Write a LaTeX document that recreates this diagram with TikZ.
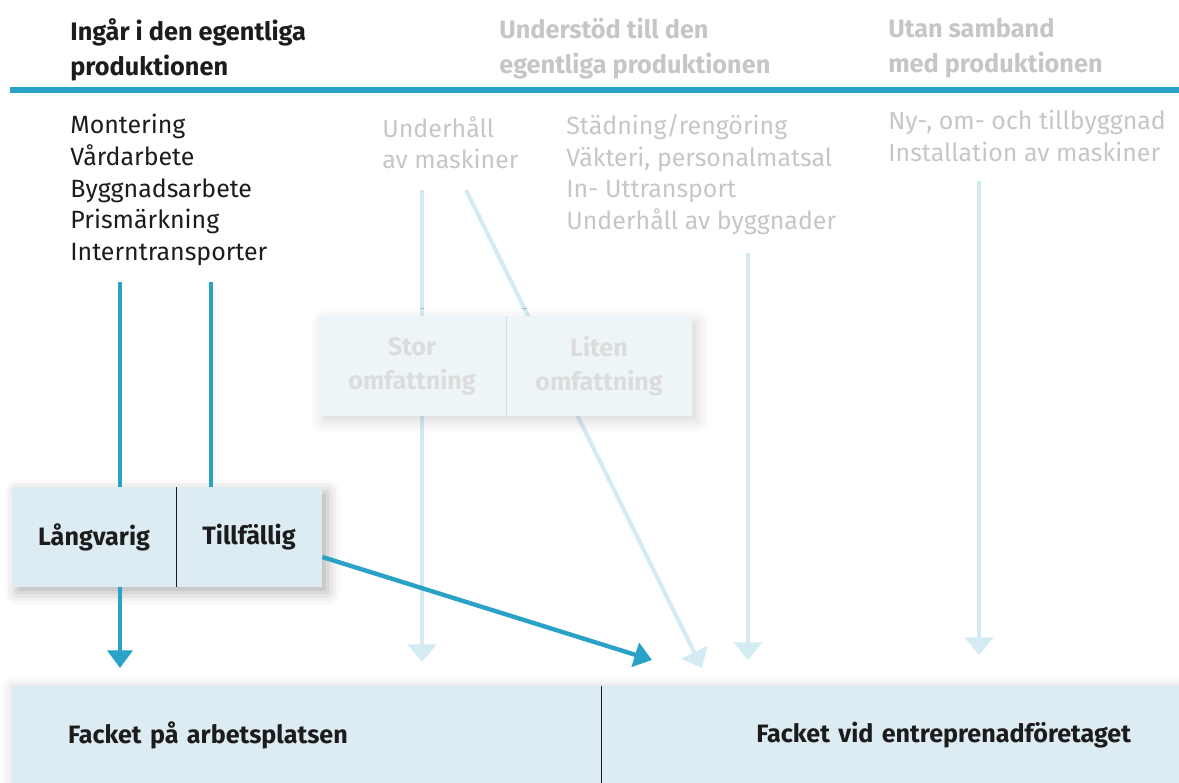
\documentclass[tikz,border=0pt]{standalone}
\usepackage{fontspec}
\setmainfont{Fira Sans}
\usetikzlibrary{arrows.meta, positioning, calc, fit, shadows.blur}

\definecolor{fackblue}{HTML}{2AA1C7}
\definecolor{fackpale}{HTML}{D5EBF3}
\definecolor{boxfill}{HTML}{DDEBF3}
\definecolor{boxpale}{HTML}{EEF5F9}
\definecolor{greytext}{HTML}{C6C6C6}
\definecolor{palegrey}{HTML}{DCDCDC}
\definecolor{inktext}{HTML}{1C1C1C}

\pgfdeclarelayer{arrowlayer}
\pgfdeclarelayer{boxlayer}
\pgfsetlayers{arrowlayer,boxlayer,main}

\tikzset{
  headtext/.style={font=\bfseries\fontsize{14.4}{19.8}\selectfont, align=left, anchor=north west, inner sep=0},
  listtext/.style={font=\fontsize{14.2}{18.0}\selectfont, align=left, anchor=north west, inner sep=0},
  cell/.style={font=\bfseries\fontsize{14.3}{19.3}\selectfont, align=center, inner sep=0, minimum height=2cm},
  strongarrow/.style={draw=fackblue, line width=2.5pt, -{Triangle[width=14pt,length=10pt]}},
  strongline/.style={draw=fackblue, line width=2.5pt},
  faintarrow/.style={draw=fackpale, line width=2.4pt, -{Triangle[width=16pt,length=10pt]}},
}

\begin{document}
\begin{tikzpicture}[x=0.02cm, y=-0.02cm]
\useasboundingbox (0,0) rectangle (1179,782);

% rubriker
\node[headtext, text=inktext] (hdprod) at (70,18) {Ingår i den egentliga\\produktionen};
\node[headtext, text=greytext] (hdsupp) at (499,18) {Understöd till den\\egentliga produktionen};
\node[headtext, text=greytext] (hdfree) at (888,18) {Utan samband\\med produktionen};
\draw[fackblue, line width=3.2pt] (10,90) -- (1179,90);

% listor
\node[listtext, text=inktext] (lsprod) at (70,114) {Montering\\Vårdarbete\\Byggnadsarbete\\Prismärkning\\Interntransporter};
\node[listtext, text=greytext] (lsmach) at (382,116) {Underhåll\\av maskiner};
\node[listtext, text=greytext] (lssupp) at (566,114) {Städning/rengöring\\Väkteri, personalmatsal\\In- Uttransport\\Underhåll av byggnader};
\node[listtext, text=greytext] (lsfree) at (888,110) {Ny-, om- och tillbyggnad\\Installation av maskiner};

% rutor
\node[cell, minimum width=3.28cm, text=inktext] (lang) at (94,537) {Långvarig};
\node[cell, minimum width=2.92cm, text=inktext] (till) at (249,537) {Tillfällig};
\node[cell, minimum width=3.76cm, text=palegrey] (stor) at (412,366) {Stor\\omfattning};
\node[cell, minimum width=3.72cm, text=palegrey] (liten) at (599,366) {Liten\\omfattning};
\node[cell, minimum width=11.78cm, minimum height=1.96cm, text width=9.54cm, align=left, text=inktext] (onsite) at (306.5,735) {Facket på arbetsplatsen};
\node[cell, minimum width=11.56cm, minimum height=1.96cm, text width=9.64cm, align=right, text=inktext] (contr) at (890,735) {Facket vid entreprenadföretaget};

\begin{pgfonlayer}{boxlayer}
  \node[fit=(lang)(till), inner sep=0, fill=boxfill, blur shadow={shadow xshift=3pt, shadow yshift=-3pt, shadow blur radius=7pt, shadow opacity=30}] (grpdur) {};
  \node[fit=(stor)(liten), inner sep=0, fill=boxpale, blur shadow={shadow xshift=3pt, shadow yshift=-3pt, shadow blur radius=7pt, shadow opacity=15}] (grpsize) {};
  \node[fit=(onsite)(contr), inner sep=0, fill=boxfill, blur shadow={shadow xshift=0pt, shadow yshift=0pt, shadow blur radius=6pt, shadow opacity=15}] (grpunion) {};
\end{pgfonlayer}

\draw[inktext, line width=0.6pt] (lang.north east) -- (lang.south east);
\draw[palegrey, line width=0.6pt] (stor.north east) -- (stor.south east);
\draw[inktext, line width=0.6pt] (onsite.north east) -- (onsite.south east);

% pilar
\coordinate (prA) at (120,282);
\coordinate (prB) at (211,282);
\coordinate (prAend) at (120,668);
\coordinate (tillend) at (652,660);
\coordinate (mtA) at (422,190);
\coordinate (mtAend) at (422,662);
\coordinate (mtB) at (466,190);
\coordinate (mtBend) at (702,668);
\coordinate (spA) at (748,253);
\coordinate (spAend) at (748,660);
\coordinate (frA) at (979,181);
\coordinate (frAend) at (979,655);

\draw[strongline] (prA) -- (prA |- lang.north);
\draw[strongline] (prB) -- (prB |- till.north);
\draw[strongarrow] (prA |- lang.south) -- (prAend);
\draw[strongarrow] ($(till.east)+(0,20)$) -- (tillend);

\begin{pgfonlayer}{arrowlayer}
  \draw[faintarrow] (mtA) -- (mtAend);
  \draw[faintarrow] (mtB) -- (mtBend);
  \draw[faintarrow] (spA) -- (spAend);
  \draw[faintarrow] (frA) -- (frAend);
\end{pgfonlayer}
\end{tikzpicture}
\end{document}
